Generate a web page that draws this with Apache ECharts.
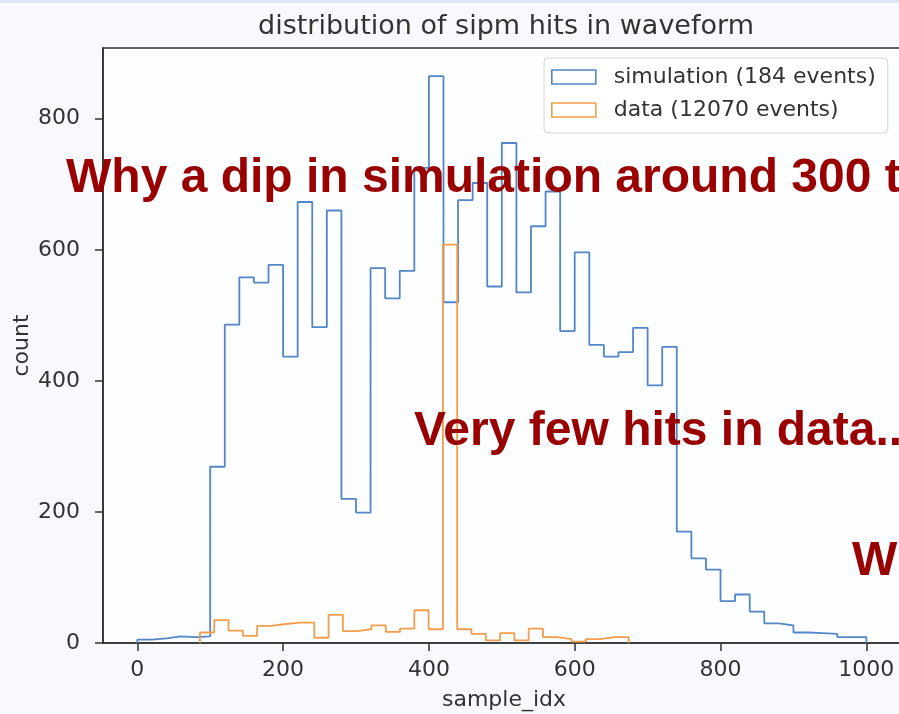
<!DOCTYPE html>
<html>
<head>
<meta charset="utf-8">
<script src="https://cdn.jsdelivr.net/npm/echarts@6/dist/echarts.min.js"></script>
<style>
  html, body { margin: 0; padding: 0; background: #f7f9fc; }
  #chart { width: 899px; height: 714px; }
</style>
</head>
<body>
<div id="chart"></div>
<script>
// Histogram of SiPM hit positions in the waveform (step outlines)
const simLabel = 'simulation (184 events)';
const dataLabel = 'data (12070 events)';

// simulation: 50 bins of width 20 starting at 0
const simBinStart = 0;
const simBinWidth = 20;
const simCounts = [
  5, 7, 10, 9, 10, 269, 486, 558, 550, 577,
  437, 673, 482, 660, 220, 199, 572, 526, 568, 725,
  865, 520, 676, 702, 544, 763, 535, 636, 689, 476,
  596, 455, 437, 444, 481, 393, 452, 170, 129, 112,
  64, 74, 48, 30, 27, 16, 15, 14, 9, 9
];

// data: 30 bins starting at 86
const dataBinStart = 86;
const dataBinWidth = 19.6;
const dataCounts = [
  16, 35, 19, 11, 26, 29, 31, 31, 8, 43,
  18, 21, 27, 17, 22, 50, 21, 608, 21, 14,
  4, 15, 4, 22, 9, 6, 2, 6, 9, 9
];

const xTicks = [0, 200, 400, 600, 800, 1000];
const yTicks = [0, 200, 400, 600, 800];

// outline of a step histogram: up from the first edge, across each bin, down at the last edge
function stepOutline(start, width, counts) {
  const pts = [[start, 0]];
  counts.forEach(function (c, i) {
    const l = start + i * width;
    pts.push([l, c], [l + width, c]);
  });
  pts.push([start + counts.length * width, 0]);
  return pts;
}

const blue = '#5286c6';
const orange = '#f29d4c';
const ink = '#333333';
const noteColor = '#990000';
const noteFont = 'bold 48px "Liberation Sans", Arial, sans-serif';
const plainNumber = function (v) { return String(v); };

const chart = echarts.init(document.getElementById('chart'));
chart.setOption({
  backgroundColor: '#f7f9fc',
  animation: false,
  title: {
    text: 'distribution of sipm hits in waveform',
    left: 501,
    top: 8,
    textAlign: 'center',
    textStyle: { fontFamily: 'DejaVu Sans', fontSize: 27, fontWeight: 'normal', color: ink }
  },
  grid: {
    left: 103, top: 48, width: 802, height: 595,
    outerBoundsMode: 'none', containLabel: false,
    show: true, backgroundColor: '#fdfeff',
    borderColor: ink, borderWidth: 1.6
  },
  legend: {
    orient: 'vertical',
    left: 544, top: 58,
    padding: [6, 12, 10, 7],
    itemWidth: 44, itemHeight: 14, itemGap: 7,
    backgroundColor: 'rgba(255,255,255,0.85)',
    borderColor: '#d4d4d4', borderWidth: 1, borderRadius: 4,
    textStyle: { fontFamily: 'DejaVu Sans', fontSize: 22, color: ink, lineHeight: 26, padding: [0, 0, 0, 13] },
    data: [
      { name: simLabel, icon: 'rect', itemStyle: { color: 'rgba(0,0,0,0)', borderColor: blue, borderWidth: 1.6 } },
      { name: dataLabel, icon: 'rect', itemStyle: { color: 'rgba(0,0,0,0)', borderColor: orange, borderWidth: 1.6 } }
    ]
  },
  xAxis: {
    type: 'value', min: -47, max: 1053,
    name: 'sample_idx', nameLocation: 'middle', nameGap: 46, nameMoveOverlap: false,
    nameTextStyle: { fontFamily: 'DejaVu Sans', fontSize: 22, color: ink },
    axisLine: { show: true, onZero: false, lineStyle: { color: ink, width: 1.6 } },
    axisTick: { show: true, length: 8, lineStyle: { color: ink, width: 1.5 }, customValues: xTicks },
    axisLabel: { fontFamily: 'DejaVu Sans', fontSize: 22, color: ink, margin: 16, customValues: xTicks, formatter: plainNumber },
    splitLine: { show: false }
  },
  yAxis: {
    type: 'value', min: 0, max: 908,
    name: 'count', nameLocation: 'middle', nameGap: 70, nameRotate: 90, nameMoveOverlap: false,
    nameTextStyle: { fontFamily: 'DejaVu Sans', fontSize: 22, color: ink },
    axisLine: { show: true, onZero: false, lineStyle: { color: ink, width: 1.6 } },
    axisTick: { show: true, length: 8, lineStyle: { color: ink, width: 1.5 }, customValues: yTicks },
    axisLabel: { fontFamily: 'DejaVu Sans', fontSize: 22, color: ink, margin: 23, customValues: yTicks, formatter: plainNumber },
    splitLine: { show: false }
  },
  series: [
    {
      name: simLabel, type: 'line', symbol: 'none', showSymbol: false,
      data: stepOutline(simBinStart, simBinWidth, simCounts),
      lineStyle: { color: blue, width: 1.8 }, itemStyle: { color: blue }, z: 2
    },
    {
      name: dataLabel, type: 'line', symbol: 'none', showSymbol: false,
      data: stepOutline(dataBinStart, dataBinWidth, dataCounts),
      lineStyle: { color: orange, width: 1.8 }, itemStyle: { color: orange }, z: 3
    }
  ],
  graphic: [
    { type: 'rect', shape: { x: 0, y: 0, width: 899, height: 3 }, style: { fill: '#dde8f5' }, z: 0, silent: true },
    { type: 'text', x: 66, y: 155, z: 100,
      style: { text: 'Why a dip in simulation around 300 t', font: noteFont, fill: noteColor, verticalAlign: 'top' } },
    { type: 'text', x: 414, y: 408, z: 100,
      style: { text: 'Very few hits in data...', font: noteFont, fill: noteColor, verticalAlign: 'top' } },
    { type: 'text', x: 852, y: 538, z: 100,
      style: { text: 'W', font: noteFont, fill: noteColor, verticalAlign: 'top' } }
  ]
});
</script>
</body>
</html>
